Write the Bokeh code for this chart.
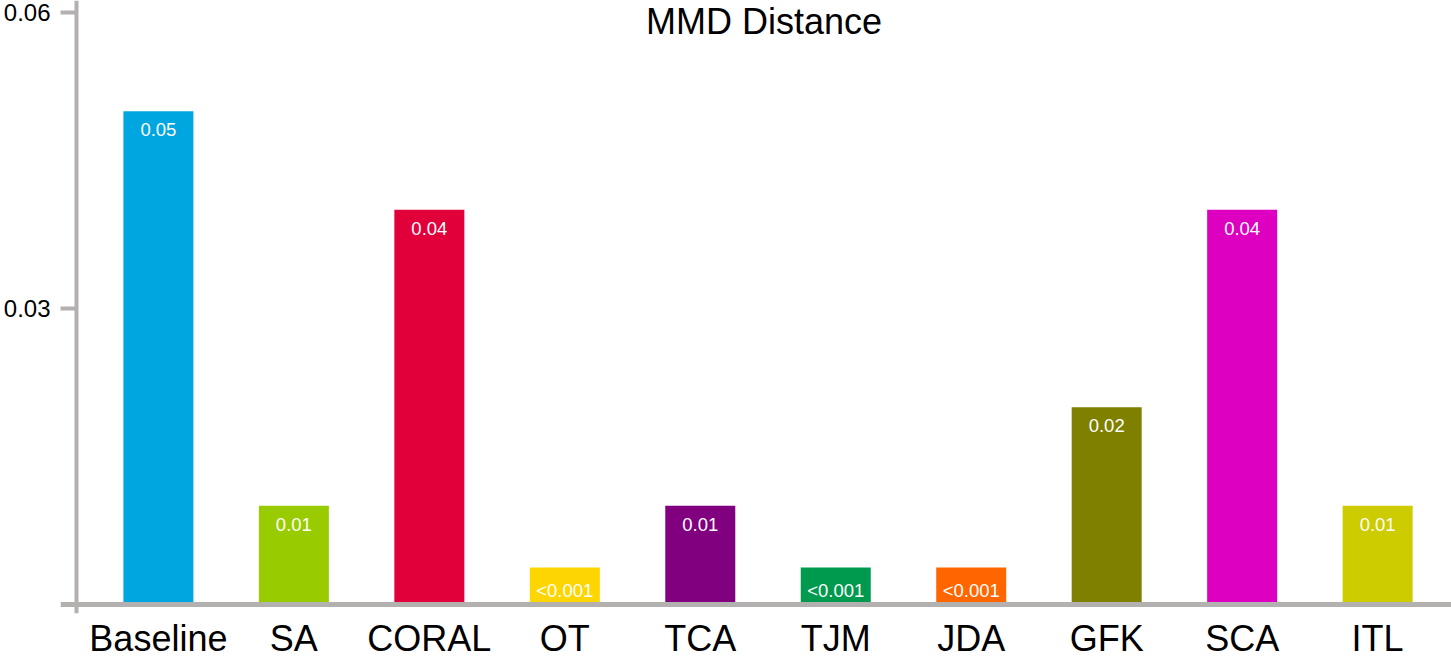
from bokeh.plotting import figure
from bokeh.models import Range1d, FixedTicker, Span, Label, ColumnDataSource
from bokeh.embed import file_html
from bokeh.resources import INLINE
from bokeh.core.properties import value

# ---- data ----
methods = ["Baseline", "SA", "CORAL", "OT", "TCA", "TJM", "JDA", "GFK", "SCA", "ITL"]
bar_heights = [0.05, 0.01, 0.04, 0.00375, 0.01, 0.00375, 0.00375, 0.02, 0.04, 0.01]
bar_labels = ["0.05", "0.01", "0.04", "<0.001", "0.01", "<0.001", "<0.001", "0.02", "0.04", "0.01"]
bar_colors = ["#00A6DF", "#99CC00", "#E2003A", "#FDD500", "#800080",
              "#009A4E", "#FF6600", "#808000", "#DE00C0", "#CCCC00"]
y_ticks = [0.03, 0.06]
title_text = "MMD Distance"

# ---- layout constants (pixels) ----
FRAME_W, FRAME_H = 1391, 613
STEP_PX = 135.47         # distance between bar centres
FIRST_CENTER_PX = 97.9   # first bar centre from frame left
BAR_W_PX = 70
YAXIS_PX = 16            # y-axis line from frame left
TOP_PAD_PX = 12          # 0.06 tick below frame top
ZERO_FROM_TOP_PX = 604   # zero line from frame top
AXIS_COLOR = "#B3B0B0"
FONT = "Liberation Sans"

x_start = -FIRST_CENTER_PX / STEP_PX
x_end = x_start + FRAME_W / STEP_PX
yaxis_x = x_start + YAXIS_PX / STEP_PX
ymax = max(y_ticks)
px_per_unit = (ZERO_FROM_TOP_PX - TOP_PAD_PX) / ymax
y_end = ymax + TOP_PAD_PX / px_per_unit
y_start = -(FRAME_H - ZERO_FROM_TOP_PX) / px_per_unit

src = ColumnDataSource(dict(
    x=list(range(len(methods))),
    h=bar_heights,
    lab=bar_labels,
    color=bar_colors,
))

p = figure(
    frame_width=FRAME_W, frame_height=FRAME_H,
    x_range=Range1d(x_start, x_end), y_range=Range1d(y_start, y_end),
    output_backend="svg", toolbar_location=None,
    min_border_left=60, min_border_right=0, min_border_top=0, min_border_bottom=0,
)
p.outline_line_color = None
p.xgrid.visible = False
p.ygrid.visible = False
p.background_fill_color = "white"
p.border_fill_color = "white"

p.vbar(x="x", top="h", bottom=0, width=BAR_W_PX / STEP_PX, color="color",
       line_color=None, source=src)
p.text(x="x", y="h", text="lab", source=src, text_color="white",
       text_font=value(FONT), text_font_size="18.5px", text_align="center",
       text_baseline="top", y_offset=12)

# axis lines
p.add_layout(Span(location=yaxis_x, dimension="height", line_color=AXIS_COLOR, line_width=4))
p.add_layout(Span(location=0, dimension="width", line_color=AXIS_COLOR, line_width=5))

# x axis
xa = p.xaxis[0]
xa.ticker = FixedTicker(ticks=list(range(len(methods))))
xa.major_label_overrides = {i: m for i, m in enumerate(methods)}
xa.axis_line_color = None
xa.major_tick_line_color = None
xa.minor_tick_line_color = None
xa.major_tick_in = 0
xa.major_tick_out = 0
xa.major_label_standoff = 4
xa.major_label_text_font = FONT
xa.major_label_text_font_size = "36px"
xa.major_label_text_color = "black"

# y axis
ya = p.yaxis[0]
ya.ticker = FixedTicker(ticks=y_ticks)
ya.axis_line_color = None
ya.major_tick_in = YAXIS_PX
ya.major_tick_out = 0
ya.major_tick_line_width = 4
ya.major_tick_line_color = AXIS_COLOR
ya.minor_tick_line_color = None
ya.major_label_standoff = 10
ya.major_label_text_font = FONT
ya.major_label_text_font_size = "24px"
ya.major_label_text_color = "black"

# title inside plot area
p.add_layout(Label(x=(yaxis_x + x_end) / 2, y=y_end, text=title_text,
                   text_align="center", text_baseline="top",
                   text_font=FONT, text_font_size="36px", text_color="black"))

open("out.html", "w").write(file_html(p, INLINE))
